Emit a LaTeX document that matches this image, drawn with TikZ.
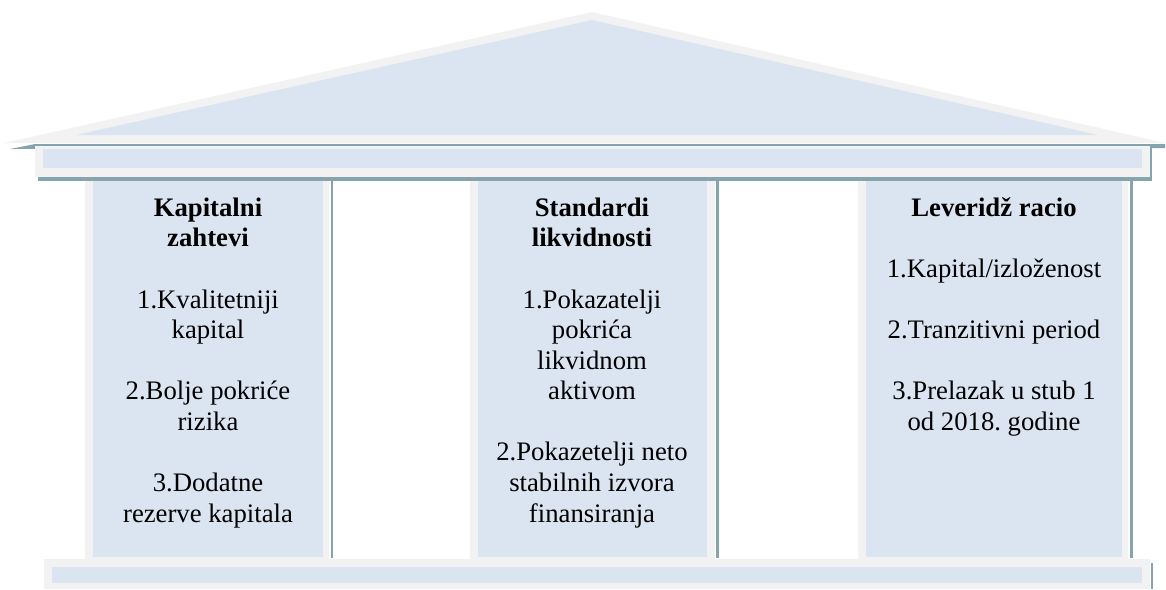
\documentclass[tikz,border=0pt]{standalone}
\usepackage{fontspec}
\setmainfont{Liberation Serif}
\usepackage{xcolor}
\usepackage{tikz}
\usetikzlibrary{positioning}
\frenchspacing

\definecolor{rimgray}{HTML}{F2F2F2}
\definecolor{paleblue}{HTML}{DBE5F1}
\definecolor{shadowteal}{RGB}{133,164,173}

\begin{document}
\begin{tikzpicture}[
  x=0.02cm, y=-0.02cm,
  rim/.style={fill=rimgray, draw=none},
  face/.style={fill=paleblue, draw=none},
  shade/.style={fill=shadowteal, draw=none},
  pillartext/.style={font=\fontsize{15.2}{17.4}\selectfont, align=center, inner sep=0pt, anchor=base}
]
\useasboundingbox (0,0) rectangle (1166,589);

% Roof
\fill[rim] (4,143) -- (592,12) -- (1165,143) -- cycle;
\fill[face] (76,135) -- (592,20) -- (1098,135) -- cycle;
\fill[shade] (10,149) -- (35,144) -- (1165,144) -- (1165,148) -- cycle;

% Beam under the roof
\fill[shade] (38,147) rectangle (1152,181);
\fill[rim] (35,146) rectangle (1150,177);
\fill[face] (43,149) rectangle (1142,168);

% Pillars
\fill[shade] (331,178) rectangle (333,558);
\fill[rim] (85,181) rectangle (329,559);
\fill[face] (93,181) rectangle (323,557);

\fill[shade] (716,178) rectangle (719,558);
\fill[rim] (470,181) rectangle (715,559);
\fill[face] (478,181) rectangle (707,557);

\fill[shade] (1130,178) rectangle (1133,558);
\fill[rim] (858,181) rectangle (1128,559);
\fill[face] (866,181) rectangle (1122,557);

% Base
\fill[shade] (1151,563) rectangle (1153,589);
\fill[rim] (44,559) rectangle (1150,589);
\fill[face] (52,567) rectangle (1142,583);

% Pillar texts (base = last line)
\node[pillartext] (kapital) at (208,522) {{\bfseries Kapitalni}\\{\bfseries zahtevi}\\[17.4pt]
  1.Kvalitetniji\\kapital\\[17.4pt]2.Bolje pokriće\\rizika\\[17.4pt]3.Dodatne\\rezerve kapitala};
\node[pillartext] (likvid) at (592,522) {{\bfseries Standardi}\\{\bfseries likvidnosti}\\[17.4pt]
  1.Pokazatelji\\pokrića\\likvidnom\\aktivom\\[17.4pt]2.Pokazetelji neto\\stabilnih izvora\\finansiranja};
\node[pillartext] (leverid) at (994,430) {{\bfseries Leveridž racio}\\[17.4pt]
  1.Kapital/izloženost\\[17.4pt]2.Tranzitivni period\\[17.4pt]3.Prelazak u stub 1\\od 2018. godine};

\end{tikzpicture}
\end{document}
